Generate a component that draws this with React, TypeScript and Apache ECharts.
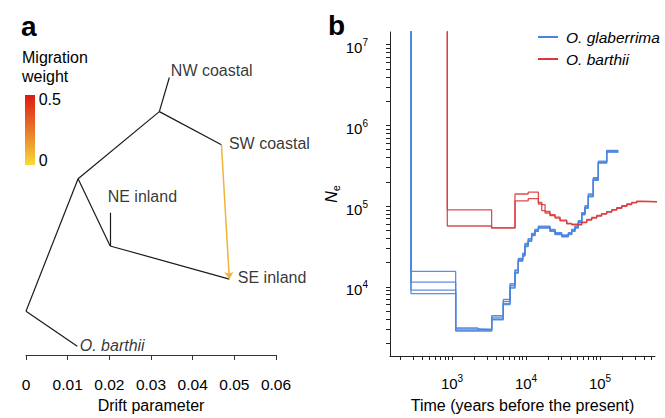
import { useEffect, useRef } from "react";
import * as echarts from "echarts";

const FONT = "'Liberation Sans', Arial, Helvetica, sans-serif";
const INK = "#000000";
const LINE_INK = "#1a1a1a";
const BLUE = "#4a84dc";
const RED = "#d9393b";

// ---------- Panel a: drift tree ----------
const treeNodes = ["root", "n1", "n2", "NW coastal", "SW coastal", "n3", "NE inland", "SE inland", "O. barthii"];
const driftValues = [0, 0.0125, 0.032, 0.0344, 0.0469, 0.0202, 0.0202, 0.0488, 0.0123];
const treeRows = [258, 122, 53, 18, 87, 191, 157, 225, 294];
const treeEdges = [
  ["root", "n1"], ["n1", "n2"], ["n2", "NW coastal"], ["n2", "SW coastal"],
  ["n1", "n3"], ["n3", "NE inland"], ["n3", "SE inland"], ["root", "O. barthii"],
];
const tipLabels = ["NW coastal", "SW coastal", "NE inland", "SE inland", "O. barthii"];
const migrationEdges = [{ from: "SW coastal", to: "SE inland" }];
const driftTicks = [0, 0.01, 0.02, 0.03, 0.04, 0.05, 0.06];
const migrationScaleLabels = ["0.5", "0"];

// ---------- Panel b: Ne through time ----------
const glabTimes = [150, 279, 1120, 2240, 3440, 4930, 6080, 7100, 7870, 9010, 9680, 10700, 11900, 13200, 14700, 21100, 24700, 30300, 37300, 41400, 45900, 50900, 56600, 62700, 69500, 81100, 94900, 123000, 177000];
const glabRepA = [1e9, 15500, 3100, 2970, 4400, 6960, 10900, 15700, 21800, 25000, 33200, 38100, 44600, 50200, 55100, 50200, 45800, 42900, 45800, 50200, 55100, 64600, 80700, 97800, 137000, 219000, 353000, 480000, 480000];
const glabRepB = [1e9, 11400, 3000, 2970, 4000, 6230, 9900, 15000, 21000, 24500, 32000, 37000, 43500, 49000, 54000, 49000, 44800, 42000, 44800, 49000, 54000, 63000, 79000, 95000, 133000, 212000, 345000, 470000, 470000];
const glabRepC = [1e9, 9100, 2900, 2900, 4200, 6600, 10400, 16200, 22500, 26000, 34500, 39500, 46000, 51500, 56500, 51500, 47000, 44000, 47000, 51500, 56500, 66000, 83000, 101000, 141000, 225000, 360000, 490000, 490000];
const glabRepD = [1e9, 8200, 2830, 2830, 3900, 6000, 9600, 14800, 20800, 24000, 31500, 36500, 43000, 48500, 53500, 48500, 44200, 41500, 44200, 48500, 53500, 62000, 78000, 94000, 130000, 208000, 340000, 465000, 465000];

const barthTimes = [150, 864, 3430, 7100, 10700, 14700, 16300, 18100, 21100, 24700, 28800, 35500, 41500, 48400, 56600, 66100, 77200, 90200, 105000, 123000, 144000, 168000, 197000, 230000, 268000, 313000, 385000, 700000];
const barthRepA = [1e9, 89600, 53600, 141000, 149000, 111000, 104000, 86000, 78000, 73000, 67000, 61000, 59500, 59000, 63400, 68200, 72300, 76400, 80800, 85400, 90200, 95300, 101000, 106000, 111000, 115000, 113000, 113000];
const barthRepB = [1e9, 56600, 53600, 116000, 124000, 106000, 88000, 82000, 76000, 71000, 65500, 60000, 58500, 58500, 62500, 67000, 71000, 75000, 79500, 84000, 89000, 94000, 99500, 104500, 109500, 113500, 112000, 112000];

const seriesNames = ["O. glaberrima", "O. barthii"];
const xLabelExponents = [3, 4, 5];
const yLabelExponents = [4, 5, 6, 7];
const xTickDecades = [2, 3, 4, 5];
const yTickDecades = [3, 4, 5, 6, 7];

// label placement (style, not data)
const tipLabelPlacement: Record<string, { distance: number; offset: [number, number] }> = {
  "NW coastal": { distance: 1, offset: [0, -7] },
  "SW coastal": { distance: 7, offset: [0, -1] },
  "NE inland": { distance: 0, offset: [-3, -16] },
  "SE inland": { distance: 8, offset: [0, -2] },
  "O. barthii": { distance: 2, offset: [0, -1] },
};

function nodePoint(name: string) {
  const i = treeNodes.indexOf(name);
  return [driftValues[i], treeRows[i]];
}

function logTicks(decades: number[], lo: number, hi: number) {
  const out: number[] = [];
  decades.forEach((d) => {
    for (let k = 1; k <= 9; k++) {
      const v = Math.log10(k * Math.pow(10, d));
      if (v >= lo && v <= hi) out.push(v);
    }
  });
  return out;
}

const X_MIN = 2.162, X_MAX = 5.743;
const Y_MIN = 3.142, Y_MAX = 7.157;

const powRich = {
  b: { fontSize: 15, fontFamily: FONT, color: INK, lineHeight: 20 },
  p: { fontSize: 10, fontFamily: FONT, color: INK, lineHeight: 8, verticalAlign: "top" },
};
const powFormatter = (v: number) => `{b|10}{p|${Math.round(v)}}`;

function stepSeries(name: string, color: string, times: number[], values: number[]) {
  return {
    type: "line",
    name,
    xAxisIndex: 1,
    yAxisIndex: 1,
    step: "end",
    showSymbol: false,
    symbol: "none",
    silent: true,
    clip: true,
    data: times.map((t, i) => [Math.log10(t), Math.log10(values[i])]),
    lineStyle: { color, width: 1.3, opacity: 0.9 },
    itemStyle: { color },
    z: 3,
  };
}

const txt = (text: string, x: number, y: number, font: string) => ({
  type: "text", x, y,
  style: { text, font, fill: INK, textAlign: "left", align: "left", textVerticalAlign: "middle", verticalAlign: "middle" },
});

export default function App() {
  const ref = useRef<HTMLDivElement>(null);
  useEffect(() => {
    const chart = echarts.init(ref.current!, null, { renderer: "svg" });
    const option: any = {
      animation: false,
      backgroundColor: "#ffffff",
      textStyle: { fontFamily: FONT },
      grid: [
        { left: 26, width: 250, top: 60, height: 303 },
        { left: 390, width: 265, top: 32, height: 332 },
      ],
      xAxis: [
        {
          type: "value", gridIndex: 0, min: 0, max: 0.06, interval: 0.01,
          axisLine: { show: true, onZero: false, lineStyle: { color: "#333", width: 1 } },
          axisTick: { show: true, length: 5, lineStyle: { color: "#333" } },
          axisLabel: {
            margin: 21, fontSize: 15.5, color: INK, fontFamily: FONT,
            formatter: (v: number) => {
              const hit = driftTicks.find((t) => Math.abs(t - v) < 1e-9);
              return hit === undefined ? "" : String(hit);
            },
          },
          splitLine: { show: false },
          name: "Drift parameter", nameLocation: "middle", nameGap: 42,
          nameTextStyle: { fontSize: 16, color: INK, fontFamily: FONT },
        },
        {
          type: "value", gridIndex: 1, min: X_MIN, max: X_MAX,
          axisLine: { show: true, onZero: false, lineStyle: { color: "#222", width: 1 } },
          axisTick: { show: true, length: 4, customValues: logTicks(xTickDecades, X_MIN, X_MAX), lineStyle: { color: "#222" } },
          axisLabel: { customValues: xLabelExponents, formatter: powFormatter, rich: powRich, margin: 17 },
          splitLine: { show: false },
          name: "Time (years before the present)", nameLocation: "middle", nameGap: 41,
          nameTextStyle: { fontSize: 16, color: INK, fontFamily: FONT },
        },
      ],
      yAxis: [
        { type: "value", gridIndex: 0, min: 0, max: 303, inverse: true, show: false },
        {
          type: "value", gridIndex: 1, min: Y_MIN, max: Y_MAX,
          axisLine: { show: true, onZero: false, lineStyle: { color: "#222", width: 1 } },
          axisTick: { show: true, length: 4, customValues: logTicks(yTickDecades, Y_MIN, Y_MAX), lineStyle: { color: "#222" } },
          axisLabel: { customValues: yLabelExponents, formatter: powFormatter, rich: powRich, margin: 22, padding: [6, 0, 0, 0] },
          splitLine: { show: false },
          name: "{n|N}{s|e}", nameLocation: "middle", nameGap: 38, nameRotate: 90,
          nameTextStyle: {
            rich: {
              n: { fontSize: 16, fontStyle: "italic", fontFamily: FONT, color: INK, lineHeight: 20 },
              s: { fontSize: 11, fontFamily: FONT, color: INK, lineHeight: 12, verticalAlign: "bottom" },
            },
          },
        },
      ],
      legend: {
        data: seriesNames,
        orient: "vertical",
        left: 538,
        top: 29,
        padding: 0,
        itemWidth: 20,
        itemHeight: 2,
        itemGap: 6,
        icon: "rect",
        selectedMode: false,
        textStyle: { fontSize: 15.5, fontStyle: "italic", color: INK, fontFamily: FONT, padding: [0, 0, 0, 3] },
      },
      graphic: [
        txt("a", 21, 26, `bold 28px ${FONT}`),
        txt("b", 328, 25, `bold 28px ${FONT}`),
        txt("Migration", 22, 57.8, `16px ${FONT}`),
        txt("weight", 22, 76.2, `16px ${FONT}`),
        {
          type: "rect", shape: { x: 25, y: 95, width: 10, height: 70 },
          style: {
            fill: new echarts.graphic.LinearGradient(0, 0, 0, 1, [
              { offset: 0, color: "#dc1b12" },
              { offset: 0.5, color: "#e8772b" },
              { offset: 1, color: "#f6db37" },
            ]),
          },
        },
        txt(migrationScaleLabels[0], 38.7, 99.5, `16px ${FONT}`),
        txt(migrationScaleLabels[1], 38.7, 160.5, `16px ${FONT}`),
      ],
      series: [
        {
          type: "lines", coordinateSystem: "cartesian2d", xAxisIndex: 0, yAxisIndex: 0,
          silent: true, symbol: "none",
          data: treeEdges.map(([a, b]) => ({ coords: [nodePoint(a), nodePoint(b)] })),
          lineStyle: { color: LINE_INK, width: 1.2, opacity: 1, curveness: 0 },
          z: 2,
        },
        {
          type: "lines", coordinateSystem: "cartesian2d", xAxisIndex: 0, yAxisIndex: 0,
          silent: true, symbol: ["none", "arrow"], symbolSize: [0, 7],
          data: migrationEdges.map((m) => ({ coords: [nodePoint(m.from), nodePoint(m.to)] })),
          lineStyle: { color: "#efb43a", width: 1.5, opacity: 1, curveness: 0 },
          z: 3,
        },
        {
          type: "scatter", xAxisIndex: 0, yAxisIndex: 0, silent: true,
          symbolSize: 1, itemStyle: { color: "rgba(0,0,0,0)" },
          data: tipLabels.map((n) => ({
            name: n,
            value: nodePoint(n),
            label: {
              position: "right",
              distance: tipLabelPlacement[n].distance,
              offset: tipLabelPlacement[n].offset,
              fontStyle: n === "O. barthii" ? "italic" : "normal",
            },
          })),
          label: { show: true, formatter: "{b}", fontSize: 16, color: INK, fontFamily: FONT },
          z: 4,
        },
        stepSeries(seriesNames[0], BLUE, glabTimes, glabRepA),
        stepSeries(seriesNames[0], BLUE, glabTimes, glabRepB),
        stepSeries(seriesNames[0], BLUE, glabTimes, glabRepC),
        stepSeries(seriesNames[0], BLUE, glabTimes, glabRepD),
        stepSeries(seriesNames[1], RED, barthTimes, barthRepA),
        stepSeries(seriesNames[1], RED, barthTimes, barthRepB),
      ],
    };
    chart.setOption(option);
    return () => chart.dispose();
  }, []);
  return <div ref={ref} style={{ position: "fixed", left: 0, top: 0, width: 665, height: 418 }} />;
}
